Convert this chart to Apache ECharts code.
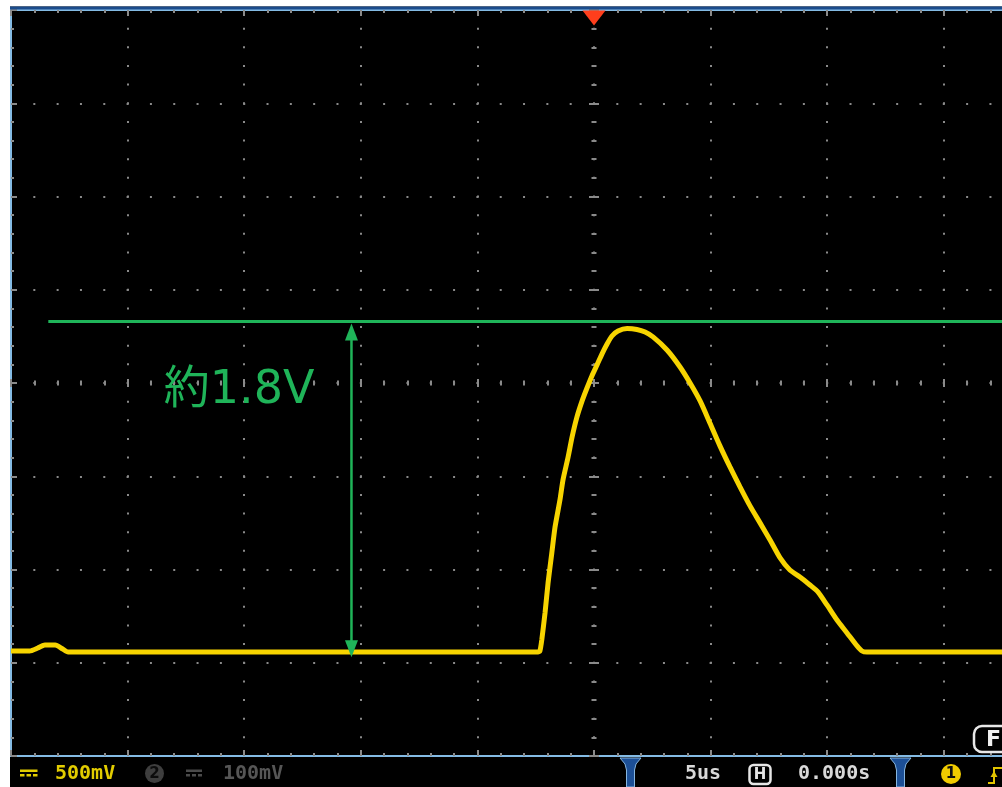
<!DOCTYPE html>
<html>
<head>
<meta charset="utf-8">
<script src="https://cdn.jsdelivr.net/npm/echarts@6/dist/echarts.min.js"></script>
<style>
  html, body { margin: 0; padding: 0; background: #ffffff; }
  #scope { width: 1002px; height: 787px; }
</style>
</head>
<body>
<div id="scope"></div>
<script>
// CH1 capture: time relative to the trigger point (µs) and voltage (V)
const timeUs = [
  -25.0, -24.2, -23.85, -23.55, -23.1, -22.8, -22.55, -2.4,
  -2.32, -2.24, -2.10, -1.97, -1.81, -1.67, -1.46, -1.33, -1.11, -0.94, -0.73, -0.51, -0.30,
  -0.09, 0.13, 0.34, 0.56, 0.77, 1.03, 1.42, 1.84, 2.19, 2.53, 3.13, 3.69, 4.12, 4.55,
  4.97, 5.40, 5.83, 6.26, 6.69, 7.12, 7.55, 7.98, 8.40, 8.83, 9.26, 9.61,
  9.99, 10.42, 10.85, 11.28, 11.49, 11.7, 25.0
];
const ch1Volts = [
  0.063, 0.063, 0.079, 0.095, 0.095, 0.075, 0.057, 0.057,
  0.063, 0.122, 0.267, 0.428, 0.588, 0.728, 0.873, 0.980, 1.103, 1.210, 1.318, 1.404, 1.473,
  1.538, 1.597, 1.655, 1.709, 1.752, 1.779, 1.792, 1.787, 1.773, 1.747, 1.677, 1.586, 1.500, 1.404,
  1.286, 1.163, 1.050, 0.943, 0.841, 0.750, 0.658, 0.562, 0.497, 0.460, 0.417, 0.379,
  0.310, 0.229, 0.160, 0.090, 0.063, 0.057, 0.057
];

// Screen scale: 10 divisions x 5 µs, 8 divisions x 500 mV
const timeRangeUs = [-25, 25];
const timePerDivUs = 5;
const voltRange = [-0.5, 3.5];
const voltPerDiv = 0.5;

// Amplitude annotation
const baseLevelV = 0.03;
const swingV = 1.8;
const peakLevelV = baseLevelV + swingV;
const levelLineFromUs = -23.4;
const arrowTimeUs = -10.4;
const labelTimeUs = -18.45;
const labelVolts = 1.455;
const swingLabel = '約' + swingV + 'V';

// Status bar readouts
const ch1Scale = '500mV';
const ch2Scale = '100mV';
const timebase = '5us';
const hPosition = '0.000s';

const traceColor = '#f7d400';
const markColor = '#1fb459';
const dotColor = '#8a8a8a';
const frameColor = '#84bbe4';

const plotH = 746;   // 8 divisions
const plotW = 1166;  // 10 divisions
const vDotStep = plotH / 40;
const hDotStep = plotW / 50;

function frameAxis(dim, position, extra) {
  const base = {
    type: 'value',
    position: position,
    min: dim === 'x' ? timeRangeUs[0] : voltRange[0],
    max: dim === 'x' ? timeRangeUs[1] : voltRange[1],
    interval: dim === 'x' ? timePerDivUs : voltPerDiv,
    axisLine: { show: false, onZero: false },
    axisTick: { show: true, inside: true, length: 6, lineStyle: { color: dotColor, width: 2 } },
    minorTick: { show: true, splitNumber: 5, length: 3, lineStyle: { color: dotColor, width: 2 } },
    axisLabel: { show: false },
    splitLine: { show: false }
  };
  return Object.assign(base, extra || {});
}

const chart = echarts.init(document.getElementById('scope'), null, { renderer: 'canvas' });

chart.setOption({
  backgroundColor: '#000000',
  animation: false,
  grid: {
    left: 11, top: 10, width: plotW, height: plotH,
    outerBoundsMode: 'none', containLabel: false
  },
  xAxis: [
    frameAxis('x', 'bottom', {
      axisLine: { show: true, onZero: false, lineStyle: { color: frameColor, width: 2 } },
      splitLine: { show: true, lineStyle: { color: dotColor, width: 2, type: [2, vDotStep - 2], dashOffset: 1 } }
    }),
    frameAxis('x', 'top', {
      axisLine: { show: true, onZero: false, lineStyle: { color: frameColor, width: 2 } }
    }),
    // centre horizontal reticle, ticks on both sides
    frameAxis('x', 'bottom', {
      offset: -plotH / 2,
      axisTick: { show: true, inside: true, length: 4, lineStyle: { color: dotColor, width: 2 } },
      minorTick: { show: true, splitNumber: 5, length: 2.5, lineStyle: { color: dotColor, width: 2 } }
    }),
    frameAxis('x', 'bottom', {
      offset: -plotH / 2,
      axisTick: { show: true, inside: false, length: 4, lineStyle: { color: dotColor, width: 2 } },
      minorTick: { show: true, splitNumber: 5, length: 2.5, lineStyle: { color: dotColor, width: 2 } }
    })
  ],
  yAxis: [
    frameAxis('y', 'left', {
      axisLine: { show: true, onZero: false, lineStyle: { color: frameColor, width: 2 } },
      splitLine: { show: true, lineStyle: { color: dotColor, width: 2, type: [2, hDotStep - 2], dashOffset: 1 } }
    }),
    // centre vertical reticle, ticks on both sides
    frameAxis('y', 'left', {
      offset: -plotW / 2,
      axisTick: { show: true, inside: true, length: 5, lineStyle: { color: dotColor, width: 2 } },
      minorTick: { show: true, splitNumber: 5, length: 2.5, lineStyle: { color: dotColor, width: 2 } }
    }),
    frameAxis('y', 'left', {
      offset: -plotW / 2,
      axisTick: { show: true, inside: false, length: 5, lineStyle: { color: dotColor, width: 2 } },
      minorTick: { show: true, splitNumber: 5, length: 2.5, lineStyle: { color: dotColor, width: 2 } }
    })
  ],
  series: [
    {
      name: 'CH1',
      type: 'line',
      xAxisIndex: 0,
      yAxisIndex: 0,
      data: timeUs.map((t, i) => [t, ch1Volts[i]]),
      symbol: 'none',
      smooth: 0.2,
      lineStyle: { color: traceColor, width: 5 },
      z: 4,
      silent: true,
      markPoint: {
        silent: true,
        symbol: 'triangle',
        symbolSize: [23, 15],
        symbolRotate: 180,
        symbolOffset: [0, 8],
        itemStyle: { color: '#ff3e1c' },
        label: { show: false },
        data: [{ coord: [0, voltRange[1]] }]
      }
    },
    {
      name: 'swing',
      type: 'custom',
      xAxisIndex: 0,
      yAxisIndex: 0,
      silent: true,
      z: 5,
      data: [[arrowTimeUs, peakLevelV]],
      renderItem: function (params, api) {
        const a = api.coord([levelLineFromUs, peakLevelV]);
        const b = api.coord([timeRangeUs[1], peakLevelV]);
        const top = api.coord([arrowTimeUs, peakLevelV]);
        const bot = api.coord([arrowTimeUs, baseLevelV]);
        const lbl = api.coord([labelTimeUs, labelVolts]);
        const hw = 6.5, hh = 17;
        const tipTop = top[1] + 2;
        return {
          type: 'group',
          children: [
            { type: 'line', shape: { x1: a[0], y1: a[1], x2: b[0], y2: b[1] },
              style: { stroke: markColor, lineWidth: 3 } },
            { type: 'line', shape: { x1: top[0], y1: tipTop + hh - 1, x2: bot[0], y2: bot[1] - hh + 1 },
              style: { stroke: markColor, lineWidth: 2.5 } },
            { type: 'polygon', shape: { points: [[top[0], tipTop], [top[0] - hw, tipTop + hh], [top[0] + hw, tipTop + hh]] },
              style: { fill: markColor } },
            { type: 'polygon', shape: { points: [[bot[0], bot[1]], [bot[0] - hw, bot[1] - hh], [bot[0] + hw, bot[1] - hh]] },
              style: { fill: markColor } },
            { type: 'text', x: lbl[0], y: lbl[1],
              style: { text: swingLabel, fill: markColor, align: 'left', verticalAlign: 'middle',
                       font: '46px "DejaVu Sans", "Noto Sans CJK JP", sans-serif' } }
          ]
        };
      }
    }
  ],
  graphic: [
    // bezel around the screen
    { type: 'rect', z: 100, shape: { x: 0, y: 0, width: 1002, height: 6.5 }, style: { fill: '#ffffff' } },
    { type: 'rect', z: 100, shape: { x: 0, y: 0, width: 10, height: 787 }, style: { fill: '#ffffff' } },
    { type: 'rect', z: 100, shape: { x: 10, y: 6.5, width: 992, height: 3 }, style: { fill: '#1b4c8c' } },

    // CH1 coupling icon and scale
    { type: 'rect', z: 100, shape: { x: 20, y: 769.5, width: 17.5, height: 2.5 }, style: { fill: '#e2cc00' } },
    { type: 'rect', z: 100, shape: { x: 20, y: 774, width: 4.5, height: 2.5 }, style: { fill: '#e2cc00' } },
    { type: 'rect', z: 100, shape: { x: 26.5, y: 774, width: 4.5, height: 2.5 }, style: { fill: '#e2cc00' } },
    { type: 'rect', z: 100, shape: { x: 33, y: 774, width: 4.5, height: 2.5 }, style: { fill: '#e2cc00' } },
    { type: 'text', z: 100, x: 55, y: 773.5,
      style: { text: ch1Scale, fill: '#e2cc00', font: 'bold 20px "DejaVu Sans Mono", monospace', verticalAlign: 'middle' } },

    // CH2 (inactive)
    { type: 'circle', z: 100, shape: { cx: 154.5, cy: 773.5, r: 9.5 }, style: { fill: '#3e3e3e' } },
    { type: 'text', z: 101, x: 154.5, y: 774,
      style: { text: '2', fill: '#0c0c0c', font: 'bold 15px "DejaVu Sans", sans-serif', align: 'center', verticalAlign: 'middle' } },
    { type: 'rect', z: 100, shape: { x: 186, y: 769.5, width: 16, height: 2.5 }, style: { fill: '#4a4a4a' } },
    { type: 'rect', z: 100, shape: { x: 186, y: 774, width: 4, height: 2.5 }, style: { fill: '#4a4a4a' } },
    { type: 'rect', z: 100, shape: { x: 192, y: 774, width: 4, height: 2.5 }, style: { fill: '#4a4a4a' } },
    { type: 'rect', z: 100, shape: { x: 198, y: 774, width: 4, height: 2.5 }, style: { fill: '#4a4a4a' } },
    { type: 'text', z: 100, x: 223, y: 773.5,
      style: { text: ch2Scale, fill: '#565656', font: 'bold 20px "DejaVu Sans Mono", monospace', verticalAlign: 'middle' } },

    // horizontal section brackets
    { type: 'polygon', z: 100,
      shape: { points: [[620, 758], [641, 758], [636, 764], [634.5, 770], [634.5, 787], [626.5, 787], [626.5, 770], [625, 764]] },
      style: { fill: '#1c4f96', stroke: '#86b6e0', lineWidth: 1 } },
    { type: 'polygon', z: 100,
      shape: { points: [[890, 758], [911, 758], [906, 764], [904.5, 770], [904.5, 787], [896.5, 787], [896.5, 770], [895, 764]] },
      style: { fill: '#1c4f96', stroke: '#86b6e0', lineWidth: 1 } },

    // timebase and horizontal position
    { type: 'text', z: 100, x: 685, y: 774,
      style: { text: timebase, fill: '#d9d9d9', font: 'bold 20px "DejaVu Sans Mono", monospace', verticalAlign: 'middle' } },
    { type: 'rect', z: 100, shape: { x: 749.5, y: 765, width: 21, height: 19, r: 4 },
      style: { fill: 'none', stroke: '#e6e6e6', lineWidth: 2.5 } },
    { type: 'text', z: 100, x: 760, y: 775,
      style: { text: 'H', fill: '#e6e6e6', font: 'bold 15px "DejaVu Sans", sans-serif', align: 'center', verticalAlign: 'middle' } },
    { type: 'text', z: 100, x: 798, y: 774,
      style: { text: hPosition, fill: '#d9d9d9', font: 'bold 20px "DejaVu Sans Mono", monospace', verticalAlign: 'middle' } },

    // trigger source and slope
    { type: 'circle', z: 100, shape: { cx: 951, cy: 774, r: 10 }, style: { fill: '#f0cb00' } },
    { type: 'text', z: 101, x: 951, y: 774.5,
      style: { text: '1', fill: '#111111', font: 'bold 15px "DejaVu Sans", sans-serif', align: 'center', verticalAlign: 'middle' } },
    { type: 'polyline', z: 100, shape: { points: [[988, 783], [994, 783], [994, 768], [1003, 768]] },
      style: { stroke: '#e2c400', lineWidth: 2, fill: 'none' } },
    { type: 'polygon', z: 100, shape: { points: [[994, 771], [990.5, 777], [997.5, 777]] }, style: { fill: '#e2c400' } },

    // function key label
    { type: 'rect', z: 100, shape: { x: 974, y: 726, width: 40, height: 26, r: 8 },
      style: { fill: '#000000', stroke: '#e8e8e8', lineWidth: 2.5 } },
    { type: 'text', z: 101, x: 986, y: 740,
      style: { text: 'F', fill: '#f0f0f0', font: 'bold 22px "DejaVu Sans", sans-serif', verticalAlign: 'middle' } }
  ]
});
</script>
</body>
</html>
